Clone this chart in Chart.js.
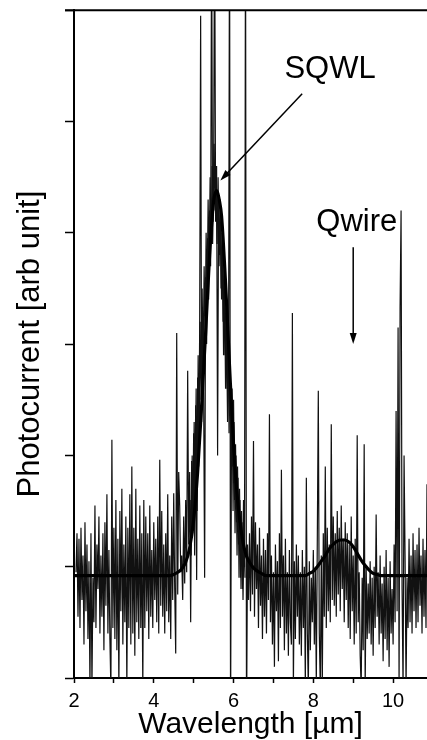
<!DOCTYPE html>
<html>
<head>
<meta charset="utf-8">
<script src="https://cdn.jsdelivr.net/npm/chart.js@4/dist/chart.umd.min.js"></script>
<style>
  html, body { margin: 0; padding: 0; background: #fff; }
  canvas { display: block; }
</style>
</head>
<body>
<canvas id="spectrumChart" width="427" height="740"></canvas>
<script>
/* Values */

// raw photocurrent trace, sampled every 0.025 um starting at 2.05 um
const noiseStart = 2.05;
const noiseStep = 0.025;
const noiseValues = [
  // 2.05 - 4.675
  0.95, 1.30, 0.55, 1.25, 0.45, 1.35, 0.70, 1.10,
  0.30, 1.40, 0.60, 1.20, 0.35, 1.05, -0.10, 1.30,
  -0.10, 0.90, 0.50, 1.55, 0.45, 1.20, 0.80, 1.45,
  0.40, 1.10, 0.55, 1.30, 0.25, 1.40, 0.65, 1.65,
  0.40, 1.15, 0.35, -0.10, 2.14, 0.45, 1.35, 0.35,
  1.60, 0.25, 1.25, -0.10, 1.50, 0.60, 1.70, 0.30,
  1.20, 0.50, 1.45, -0.10, 1.35, 0.45, 1.65, 0.30,
  1.90, 0.40, 1.35, 0.20, 1.70, 0.50, 1.25, 0.35,
  1.55, 0.45, 1.30, -0.10, 1.60, 0.45, 1.45, 0.60,
  1.30, 0.35, 1.55, 0.55, 1.15, 0.45, 1.40, 0.70,
  1.25, 0.50, 1.45, 0.40, 1.96, 0.65, 1.50, 0.55,
  1.20, 0.40, 1.30, 0.60, 1.65, 0.50, 1.10, 0.35,
  1.45, 0.70, 1.66, 0.80, 0.22, 3.10, 0.75, 1.85,
  1.55, 0.95,
  // 4.7 - 6.375
  1.10, 0.70, 1.45, 0.85, 1.60, 0.95, 2.76, 1.20,
  1.85, 0.50, 1.95, 1.30, 2.20, 1.10, 2.45, 0.88,
  2.70, 1.90, 3.10, 5.95, 2.30, 3.30, 2.60, 0.90,
  3.60, 3.00, 3.95, 3.40, 4.20, 3.70, 6.80, 3.90,
  4.40, 7.00, 4.10, 4.60, 2.00, 4.30, 3.80, 4.10,
  3.40, 3.90, 2.90, 3.50, 2.60, 3.10, 2.30, 2.90,
  7.00, -0.50, 2.40, 1.90, 2.50, 1.60, 2.10, 1.40,
  1.90, 1.20, 1.70, 0.90, 1.50, 0.80, 1.60, 1.00,
  7.00, -0.50, 1.20, 0.70,
  // 6.4 - 10.85
  1.30, 0.60, 1.45, 0.75, 2.13, 0.55, 1.40, 0.80,
  1.20, 0.45, 1.35, 0.65, 1.10, 0.35, 1.25, 0.55,
  1.15, 0.40, 1.30, 0.70, 2.37, 0.50, 1.10, 0.30,
  0.95, 0.10, 1.20, 0.60, 1.05, 0.15, 1.30, 0.45,
  1.87, 0.55, 1.10, 0.25, 1.25, 0.40, 0.95, 0.20,
  1.15, 0.50, 0.30, 3.28, -0.10, 1.05, 0.35, 1.20,
  0.55, 1.10, 0.30, 0.95, 0.20, 1.15, 0.45, 1.00,
  -0.10, 1.80, 0.40, -0.10, 1.05, 0.25, 0.90, 0.50,
  1.15, 0.30, 1.00, -0.05, 1.25, 2.58, 0.40, -0.10,
  1.10, -0.10, 1.30, 0.55, 1.90, 0.45, 1.35, 0.60,
  1.20, 0.50, 2.28, 0.70, 1.45, 0.65, 1.30, 0.55,
  1.50, 0.75, 1.35, 0.60, 1.55, 0.80, 1.25, 0.50,
  1.40, 0.70, 1.30, 0.45, 1.20, 0.35, 1.45, 0.60,
  1.10, 0.30, 1.25, 0.40, 2.18, 0.50, 0.95, 0.20,
  -0.10, 0.90, 0.25, 2.10, -0.10, 1.00, 0.35, 0.85,
  0.40, 1.05, 0.30, 0.90, 0.20, 1.00, 0.45, 1.47,
  0.55, 0.95, 0.30, 1.10, 0.40, 0.85, 0.15, 1.00,
  0.35, 1.15, 0.25, 0.90, 0.10, 1.05, 0.40, 0.80,
  0.30, 1.20, 0.50, 2.40, 0.60, 3.15, -0.10, 3.33,
  4.20, 0.80, -0.10, 2.00, 1.10, -0.10, 0.90, 0.45,
  1.25, 0.50, 1.10, 0.40, 1.30, 0.60, 1.15, 0.45,
  1.20, 0.50, 1.35, 0.65, 1.10, 0.40, 1.25, 0.55,
  1.15, 0.45, 1.74,
];

// denser part of the trace under the SQWL peak, every 0.025 um from 4.9125 um
const peakStart = 4.9125;
const peakValues = [
  1.6, 1.1, 2.0, 1.4, 2.3, 1.7, 2.6, 1.5,
  2.9, 2.2, 3.2, 2.5, 3.5, 2.8, 3.7, 3.1,
  4.0, 3.4, 4.3, 3.7, 4.5, 3.9, 4.6, 4.1,
  4.8, 4.2, 4.6, 3.9, 4.5, 3.7, 4.3, 3.5,
  4.0, 3.2, 3.7, 2.9, 3.4, 2.6, 3.1, 2.2,
  2.8, 1.9, 2.6, 1.5, 2.3, 1.3, 2.0, 1.1,
  1.8, 0.9, 1.6, 0.8, 1.4, 0.7, 1.3, 0.9,
];

// smooth fitted curve
const fitX = [
  2.0, 4.4, 4.5, 4.6, 4.7, 4.8, 4.9, 5.0, 5.1, 5.2, 5.3, 5.4, 5.5, 5.57,
  5.65, 5.7, 5.8, 5.9, 6.0, 6.1, 6.2, 6.3, 6.4, 6.5, 6.6, 6.7, 6.8,
  7.8, 7.9, 8.0, 8.1, 8.2, 8.3, 8.4, 8.5, 8.6, 8.7, 8.8, 8.9, 9.0, 9.1,
  9.2, 9.3, 9.4, 9.5, 9.6, 9.7, 10.85,
];
const fitY = [
  0.92, 0.92, 0.93, 0.95, 0.98, 1.04, 1.17, 1.42, 1.85, 2.45, 3.1, 3.8, 4.28, 4.38,
  4.28, 4.15, 3.55, 2.8, 2.1, 1.6, 1.3, 1.12, 1.04, 0.99, 0.96, 0.94, 0.92,
  0.92, 0.94, 0.96, 1.0, 1.05, 1.1, 1.16, 1.2, 1.23, 1.24, 1.24, 1.22, 1.18, 1.12,
  1.06, 1.01, 0.97, 0.94, 0.93, 0.92, 0.92,
];

const xTickLabels = [2, 4, 6, 8, 10];

const fontFamily = "'Liberation Sans', Arial, sans-serif";

const noisePoints = noiseValues.map((v, i) => ({ x: noiseStart + i * noiseStep, y: v }));
const peakPoints = peakValues.map((v, i) => ({ x: peakStart + i * noiseStep, y: v }));
const fitPoints = fitX.map((x, i) => ({ x: x, y: fitY[i] }));

/* Annotations: frame top line, labels and arrows */

function drawArrow(ctx, x1, y1, x2, y2) {
  const ang = Math.atan2(y2 - y1, x2 - x1);
  const len = 11;
  const half = 3.5;
  ctx.beginPath();
  ctx.moveTo(x1, y1);
  ctx.lineTo(x2 - Math.cos(ang) * len * 0.8, y2 - Math.sin(ang) * len * 0.8);
  ctx.stroke();
  ctx.beginPath();
  ctx.moveTo(x2, y2);
  ctx.lineTo(x2 - Math.cos(ang) * len - Math.sin(ang) * half, y2 - Math.sin(ang) * len + Math.cos(ang) * half);
  ctx.lineTo(x2 - Math.cos(ang) * len + Math.sin(ang) * half, y2 - Math.sin(ang) * len - Math.cos(ang) * half);
  ctx.closePath();
  ctx.fill();
}

const annotationPlugin = {
  id: "annotations",
  afterDraw(chart) {
    const ctx = chart.ctx;
    const xs = chart.scales.x;
    const ys = chart.scales.y;
    const area = chart.chartArea;

    ctx.save();
    // top frame line
    ctx.strokeStyle = "#000";
    ctx.lineWidth = 2;
    ctx.beginPath();
    ctx.moveTo(area.left - 9, area.top);
    ctx.lineTo(area.right, area.top);
    ctx.stroke();

    ctx.fillStyle = "#000";
    ctx.font = "31px " + fontFamily;
    ctx.textAlign = "center";
    ctx.textBaseline = "alphabetic";
    ctx.fillText("SQWL", xs.getPixelForValue(8.42), ys.getPixelForValue(5.39));
    ctx.fillText("Qwire", xs.getPixelForValue(9.09), ys.getPixelForValue(4.02));

    ctx.lineWidth = 1.5;
    drawArrow(
      ctx,
      xs.getPixelForValue(7.72), ys.getPixelForValue(5.25),
      xs.getPixelForValue(5.67), ys.getPixelForValue(4.47),
    );
    drawArrow(
      ctx,
      xs.getPixelForValue(9.0), ys.getPixelForValue(3.87),
      xs.getPixelForValue(9.0), ys.getPixelForValue(3.0),
    );
    ctx.restore();
  },
};

new Chart(document.getElementById("spectrumChart"), {
  type: "line",
  data: {
    datasets: [
      {
        label: "Photocurrent",
        data: noisePoints,
        borderColor: "#111",
        borderWidth: 1.2,
        pointRadius: 0,
        tension: 0,
        order: 3,
      },
      {
        label: "Photocurrent (peak)",
        data: peakPoints,
        borderColor: "#111",
        borderWidth: 1.2,
        pointRadius: 0,
        tension: 0,
        order: 2,
      },
      {
        label: "Fit",
        data: fitPoints,
        borderColor: "#000",
        borderWidth: 3.2,
        pointRadius: 0,
        cubicInterpolationMode: "monotone",
        order: 1,
      },
    ],
  },
  options: {
    responsive: false,
    animation: false,
    layout: {
      padding: { top: 9, right: 0, bottom: 0, left: 0 },
    },
    plugins: {
      legend: { display: false },
      tooltip: { enabled: false },
    },
    scales: {
      x: {
        type: "linear",
        min: 2,
        max: 10.85,
        afterFit: (scale) => {
          scale.height = 62;
        },
        ticks: {
          stepSize: 1,
          includeBounds: false,
          autoSkip: false,
          maxRotation: 0,
          padding: 6,
          color: "#000",
          font: { family: fontFamily, size: 20 },
          callback: function (value) {
            return xTickLabels.includes(value) ? String(value) : "";
          },
        },
        grid: {
          drawOnChartArea: false,
          tickLength: 5,
          tickColor: "#000",
          tickWidth: 1.5,
        },
        border: { color: "#000", width: 2 },
        title: {
          display: true,
          text: "Wavelength [µm]",
          color: "#000",
          font: { family: fontFamily, size: 30 },
          padding: { top: 0, bottom: -3 },
        },
      },
      y: {
        min: 0,
        max: 6,
        afterFit: (scale) => {
          scale.width = 74;
        },
        ticks: {
          stepSize: 1,
          includeBounds: false,
          callback: function () {
            return "";
          },
        },
        grid: {
          drawOnChartArea: false,
          tickLength: 9,
          tickColor: "#000",
          tickWidth: 1.5,
        },
        border: { color: "#000", width: 2 },
        title: {
          display: true,
          text: "Photocurrent [arb unit]",
          color: "#000",
          font: { family: fontFamily, size: 31 },
          padding: { top: 12, bottom: 0 },
        },
      },
    },
  },
  plugins: [annotationPlugin],
});
</script>
</body>
</html>
